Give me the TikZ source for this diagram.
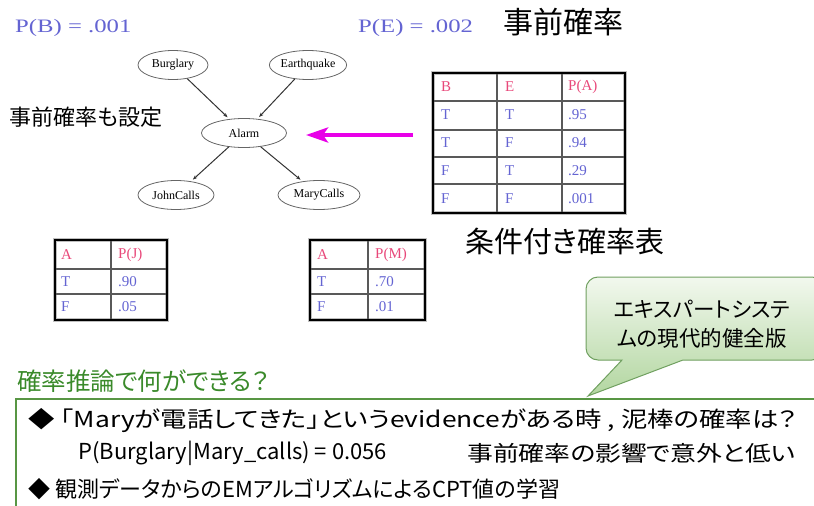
\documentclass[tikz,border=0pt]{standalone}
\usepackage{fontspec}
\usepackage{graphicx}
\usepackage{tikz}
\usetikzlibrary{arrows.meta,shapes.geometric}
\newfontfamily\jpfont[RawFeature=+palt]{Noto Sans CJK JP}
\newfontfamily\jpwide[RawFeature=+palt,FakeStretch=1.2]{Noto Sans CJK JP}
\newfontfamily\scanfont{Liberation Serif}
\newcommand{\jpsz}[1]{\jpfont\fontsize{#1}{#1}\selectfont}
\newcommand{\jpwidesz}[1]{\jpwide\fontsize{#1}{#1}\selectfont}
\definecolor{probblue}{RGB}{100,100,210}
\definecolor{headpink}{RGB}{232,72,122}
\definecolor{titlegreen}{RGB}{58,138,42}
\definecolor{boxgreen}{RGB}{88,150,68}
\definecolor{bubbleedge}{RGB}{112,160,96}
\definecolor{bubbletop}{RGB}{242,248,238}
\definecolor{bubblebot}{RGB}{178,214,160}
\definecolor{cptmagenta}{RGB}{232,0,232}

\begin{document}
\begin{tikzpicture}[x=1pt,y=-1pt,
			bn/.style={ellipse,draw=black!60,line width=0.8pt,minimum height=29pt,inner sep=0pt,font=\scanfont\fontsize{12}{12}\selectfont},
			edge/.style={-{Stealth[length=4.5pt,width=3.5pt]},draw=black!80,line width=1pt,shorten >=2.5pt},
			prior/.style={anchor=west,inner sep=0pt,font=\scanfont\fontsize{19}{19}\selectfont,text=probblue},
			tabframe/.style={draw=black,line width=2.2pt},
			halo/.style={draw=black!25,line width=4.5pt},
			tabrule/.style={draw=black!65,line width=1.2pt},
			hd/.style={anchor=west,inner sep=0pt,font=\scanfont\fontsize{15}{15}\selectfont,text=headpink},
			val/.style={anchor=west,inner sep=0pt,font=\scanfont\fontsize{15}{15}\selectfont,text=probblue},
			cpt/.style={-{Stealth[length=22pt,width=15pt,inset=5pt]},draw=cptmagenta,line width=4pt},
			bubble/.style={draw=bubbleedge,line width=1pt,top color=bubbletop,bottom color=bubblebot},
			line/.style={anchor=west,inner sep=0pt,font=\jpsz{22}},
			wideline/.style={anchor=west,inner sep=0pt,font=\jpwidesz{22}}]
			\clip (0,0) rectangle (814,506);
			%% prior probabilities
			\node[prior] (priorB) at (15,28) {\scalebox{1.3}[1]{P(B) = .001}};
			\node[prior] (priorE) at (358,28) {\scalebox{1.3}[1]{P(E) = .002}};
			\node[font=\jpsz{30}] (priortitle) at (563,22) {事前確率};
			\node[font=\jpsz{22}] (priornote) at (86,117) {事前確率も設定};
			%% network
			\node[bn,minimum width=70pt] (burglary) at (173,65) {Burglary};
			\node[bn,minimum width=76pt] (earthquake) at (308,65) {Earthquake};
			\node[bn,minimum width=85pt] (alarm) at (244,133) {Alarm};
			\node[bn,minimum width=76pt] (johncalls) at (176,195) {JohnCalls};
			\node[bn,minimum width=82pt] (marycalls) at (319,195) {MaryCalls};
			\draw[edge] (burglary) -- (alarm);
			\draw[edge] (earthquake) -- (alarm);
			\draw[edge] (alarm) -- (johncalls);
			\draw[edge] (alarm) -- (marycalls);
			\coordinate (cpttail) at (413,135);
			\coordinate (cpttip) at (306,135);
			\draw[cpt] (cpttail) -- (cpttip);
			%% table P(A)
			\draw[halo] (433,73) rectangle (625,213);
			\foreach \yy in {101,130,157,184} \draw[tabrule] (433,\yy) -- (625,\yy);
			\foreach \xx in {497,562} \draw[tabrule] (\xx,73) -- (\xx,213);
			\draw[tabframe] (433,73) rectangle (625,213);
			\node[hd] (ahB) at (441,87) {B};
			\node[hd] (ahE) at (505,87) {E};
			\node[hd] (ahP) at (568,87) {P(A)};
			\foreach \yy/\rb/\re/\rp [count=\i] in {115/T/T/.95,143/T/F/.94,171/F/T/.29,199/F/F/.001}{
				\node[val] (aB\i) at (441,\yy) {\rb};
				\node[val] (aE\i) at (505,\yy) {\re};
				\node[val] (aP\i) at (568,\yy) {\rp};
			}
			\node[font=\jpsz{29}] (cpttitle) at (565,241) {条件付き確率表};
			%% table P(J)
			\draw[halo] (55,240) rectangle (167,320);
			\draw[tabrule] (55,269) -- (167,269) (55,294) -- (167,294) (111,240) -- (111,320);
			\draw[tabframe] (55,240) rectangle (167,320);
			\node[hd] (jhA) at (61,255) {A};
			\node[hd] (jhP) at (118,255) {P(J)};
			\foreach \yy/\ra/\rp [count=\i] in {282/T/.90,307/F/.05}{
				\node[val] (jA\i) at (61,\yy) {\ra};
				\node[val] (jP\i) at (118,\yy) {\rp};
			}
			%% table P(M)
			\draw[halo] (310,240) rectangle (425,320);
			\draw[tabrule] (310,269) -- (425,269) (310,294) -- (425,294) (368,240) -- (368,320);
			\draw[tabframe] (310,240) rectangle (425,320);
			\node[hd] (mhA) at (317,255) {A};
			\node[hd] (mhP) at (375,255) {P(M)};
			\foreach \yy/\ra/\rp [count=\i] in {282/T/.70,307/F/.01}{
				\node[val] (mA\i) at (317,\yy) {\ra};
				\node[val] (mP\i) at (375,\yy) {\rp};
			}
			%% callout
			\path[bubble] (588,396) -- (622,360) [rounded corners=12pt] -- (586,360) -- (586,277) -- (824,277) -- (824,360) [sharp corners] -- (683,360) -- cycle;
			\node[align=center,font=\jpsz{21.5}] (expert) at (702,324) {エキスパートシステ\\[8pt]ムの現代的健全版};
			%% inference
			\node[anchor=west,inner sep=0pt,font=\jpsz{24.5},text=titlegreen] (question) at (17,381) {確率推論で何ができる？};
			\draw[boxgreen,line width=2pt] (16,399) rectangle (840,540);
			\node[wideline] (item1) at (28,421) {◆ 「Maryが電話してきた」というevidenceがある時 , 泥棒の確率は？};
			\node[line] (item1a) at (78,453) {P(Burglary|Mary\_calls) = 0.056};
			\node[wideline,font=\jpwidesz{21.5}] (item1b) at (467,453) {事前確率の影響で意外と低い};
			\node[line] (item2) at (28,489) {◆ 観測データからのEMアルゴリズムによるCPT値の学習};
		\end{tikzpicture}
\end{document}
